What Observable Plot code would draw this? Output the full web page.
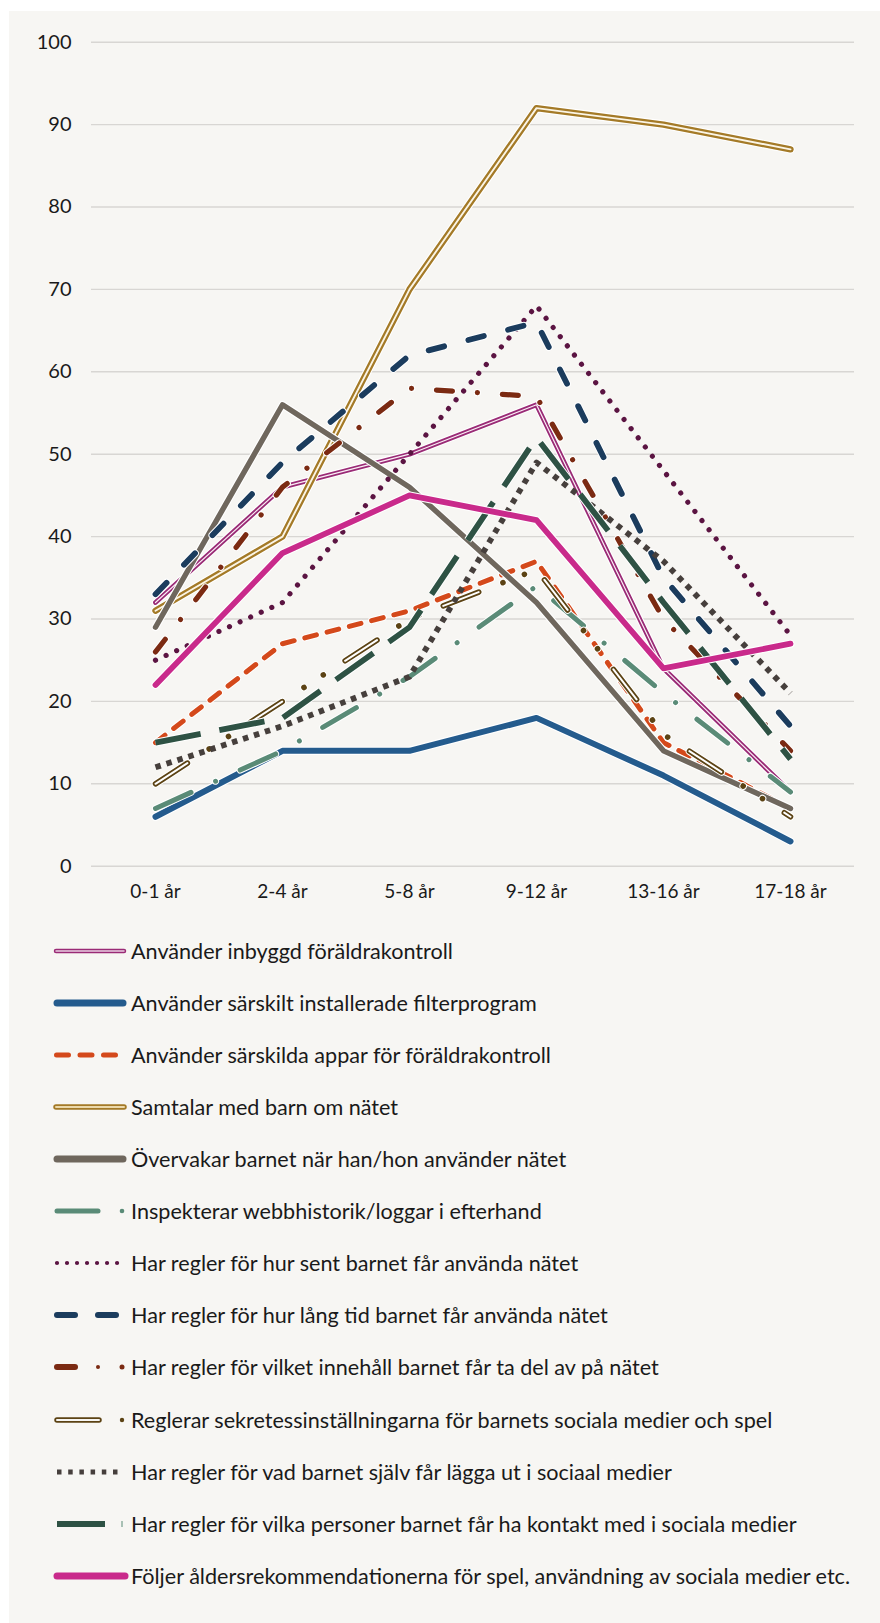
<!DOCTYPE html>
<html>
<head>
<meta charset="utf-8">
<script src="https://cdn.jsdelivr.net/npm/d3@7"></script>
<script src="https://cdn.jsdelivr.net/npm/@observablehq/plot@0.6"></script>
<style>
  html, body { margin: 0; padding: 0; background: #ffffff; }
  #page { position: relative; width: 880px; height: 1623px; overflow: hidden; }
  #panel { position: absolute; left: 9px; top: 11px; right: 0; bottom: 0; background: #f7f6f3; }
  #chart { position: absolute; left: 0; top: 0; }
  #legend { position: absolute; left: 0; top: 924.7px; width: 880px; font-family: Lato, sans-serif; font-size: 21.6px; color: #1a1a1a; }
  .row { position: relative; height: 52.1px; }
  .row svg { position: absolute; left: 50px; top: 19px; }
  .row span { position: absolute; left: 131px; top: 0; line-height: 52.1px; white-space: nowrap; }
</style>
</head>
<body>
<div id="page">
  <div id="panel"></div>
  <div id="chart"></div>
  <div id="legend"></div>
</div>
<script>
const categories = ["0-1 år", "2-4 år", "5-8 år", "9-12 år", "13-16 år", "17-18 år"];
const yTicks = [0, 10, 20, 30, 40, 50, 60, 70, 80, 90, 100];

const seriesNames = [
  "Använder inbyggd föräldrakontroll",
  "Använder särskilt installerade filterprogram",
  "Använder särskilda appar för föräldrakontroll",
  "Samtalar med barn om nätet",
  "Övervakar barnet när han/hon använder nätet",
  "Inspekterar webbhistorik/loggar i efterhand",
  "Har regler för hur sent barnet får använda nätet",
  "Har regler för hur lång tid barnet får använda nätet",
  "Har regler för vilket innehåll barnet får ta del av på nätet",
  "Reglerar sekretessinställningarna för barnets sociala medier och spel",
  "Har regler för vad barnet själv får lägga ut i sociaal medier",
  "Har regler för vilka personer barnet får ha kontakt med i sociala medier",
  "Följer åldersrekommendationerna för spel, användning av sociala medier etc."
];

const inbyggd      = [32, 46, 50, 56, 24, 9];
const filterprog   = [6, 14, 14, 18, 11, 3];
const appar        = [15, 27, 31, 37, 15, 7];
const samtalar     = [31, 40, 70, 92, 90, 87];
const overvakar    = [29, 56, 46, 32, 14, 7];
const inspekterar  = [7, 14, 23, 34, 21, 9];
const hurSent      = [25, 32, 50, 68, 48, 28];
const hurLang      = [33, 49, 62, 66, 35, 17];
const innehall     = [26, 46, 58, 57, 30, 14];
const sekretess    = [10, 20, 30, 36, 16, 6];
const laggaUt      = [12, 17, 23, 49, 37, 21];
const personer     = [15, 18, 29, 52, 32, 13];
const aldersrek    = [22, 38, 45, 42, 24, 27];

const seriesValues = [inbyggd, filterprog, appar, samtalar, overvakar, inspekterar,
  hurSent, hurLang, innehall, sekretess, laggaUt, personer, aldersrek];

const colors = ["#9a2b76", "#245b8d", "#d4491b", "#a47a27", "#6f675d", "#5a8b77",
  "#5b1442", "#1b3c5d", "#7b2a12", "#5c4314", "#463f3c", "#2e5244", "#c92a8b"];

function rows(i) {
  return categories.map((c, j) => ({series: seriesNames[i], x: c, y: seriesValues[i][j]}));
}

const W = "#ffffff";
const styles = [
  [ {stroke: W, w: 7, cap: "round"}, {stroke: colors[0], w: 4.8, cap: "round"}, {stroke: "#fbeef6", w: 1.2, cap: "round"} ],
  [ {stroke: W, w: 8.2, cap: "round"}, {stroke: colors[1], w: 6, cap: "round"} ],
  [ {stroke: W, w: 7, cap: "round", dash: "12,11"}, {stroke: colors[2], w: 5, cap: "round", dash: "12,11"} ],
  [ {stroke: W, w: 8.6, cap: "round"}, {stroke: colors[3], w: 6.4, cap: "round"}, {stroke: "#fbf5e6", w: 1.9, cap: "round"} ],
  [ {stroke: W, w: 7.6, cap: "round"}, {stroke: colors[4], w: 5.4, cap: "round"} ],
  [ {stroke: W, w: 7, cap: "round", dash: "39,27,0.01,27"}, {stroke: colors[5], w: 5, cap: "round", dash: "39,27,0.01,27"} ],
  [ {stroke: colors[6], w: 5.2, cap: "round", dash: "0.01,11.6"} ],
  [ {stroke: W, w: 7.8, cap: "round", dash: "16,25"}, {stroke: colors[7], w: 5.8, cap: "round", dash: "16,25"} ],
  [ {stroke: W, w: 7.2, cap: "round", dash: "16,25,0.01,25"}, {stroke: colors[8], w: 5.2, cap: "round", dash: "16,25,0.01,25"} ],
  [ {stroke: W, w: 7.6, cap: "round", dash: "38,26,0.01,23,0.01,26"}, {stroke: colors[9], w: 5.6, cap: "round", dash: "38,26,0.01,23,0.01,26"}, {stroke: W, w: 2, cap: "round", dash: "38,75"} ],
  [ {stroke: colors[10], w: 5.8, cap: "butt", dash: "5.5,6"} ],
  [ {stroke: W, w: 7.8, cap: "butt", dash: "46,19"}, {stroke: colors[11], w: 5.8, cap: "butt", dash: "46,19"} ],
  [ {stroke: W, w: 8, cap: "round"}, {stroke: colors[12], w: 5.8, cap: "round"} ]
];

const lineMarks = [];
styles.forEach((layers, i) => {
  const data = rows(i);
  layers.forEach(l => {
    lineMarks.push(Plot.lineY(data, {
      x: "x", y: "y",
      stroke: l.stroke, strokeWidth: l.w,
      strokeLinecap: l.cap, strokeLinejoin: "round",
      strokeDasharray: l.dash
    }));
  });
});

const chart = Plot.plot({
  width: 880,
  height: 920,
  marginLeft: 91,
  marginRight: 26,
  marginTop: 41.7,
  marginBottom: 54.3,
  style: {background: "transparent", fontFamily: "Lato, sans-serif", color: "#1a1a1a", overflow: "visible"},
  x: {type: "point", domain: categories, padding: 0.5, label: null},
  y: {domain: [0, 100], label: null},
  marks: [
    Plot.gridY(yTicks, {stroke: "#d8d6d3", strokeOpacity: 1, strokeWidth: 1.4}),
    Plot.axisY(yTicks, {tickSize: 0, tickPadding: 20, fontSize: 20, label: null, fill: "#1a1a1a"}),
    Plot.axisX(categories, {tickSize: 0, tickPadding: 18, fontSize: 19, label: null, fill: "#1a1a1a"}),
    ...lineMarks
  ]
});
document.getElementById("chart").appendChild(chart);

const swatches = [
  `<line x1="6" y1="7" x2="74" y2="7" stroke="${colors[0]}" stroke-width="4.5" stroke-linecap="round"/><line x1="6" y1="7" x2="74" y2="7" stroke="#ead0e2" stroke-width="1.5" stroke-linecap="round"/>`,
  `<line x1="7" y1="7" x2="73" y2="7" stroke="${colors[1]}" stroke-width="7" stroke-linecap="round"/>`,
  `<line x1="6.5" y1="7" x2="70" y2="7" stroke="${colors[2]}" stroke-width="5" stroke-linecap="round" stroke-dasharray="12,11.5"/>`,
  `<line x1="6" y1="7" x2="74" y2="7" stroke="${colors[3]}" stroke-width="5.5" stroke-linecap="round"/><line x1="6" y1="7" x2="74" y2="7" stroke="#ecd9aa" stroke-width="2" stroke-linecap="round"/>`,
  `<line x1="7" y1="7" x2="73" y2="7" stroke="${colors[4]}" stroke-width="7" stroke-linecap="round"/>`,
  `<line x1="7" y1="7" x2="48" y2="7" stroke="${colors[5]}" stroke-width="5" stroke-linecap="round"/><circle cx="72" cy="7" r="2.3" fill="${colors[5]}"/>`,
  `<line x1="7" y1="7" x2="70" y2="7" stroke="${colors[6]}" stroke-width="4.2" stroke-linecap="round" stroke-dasharray="0.01,10"/>`,
  `<line x1="7" y1="7" x2="25" y2="7" stroke="${colors[7]}" stroke-width="6" stroke-linecap="round"/><line x1="48" y1="7" x2="66" y2="7" stroke="${colors[7]}" stroke-width="6" stroke-linecap="round"/>`,
  `<line x1="7" y1="7" x2="25" y2="7" stroke="${colors[8]}" stroke-width="6" stroke-linecap="round"/><circle cx="48" cy="7" r="2" fill="${colors[8]}"/><circle cx="72" cy="7" r="2.5" fill="${colors[8]}"/>`,
  `<line x1="7" y1="7" x2="49" y2="7" stroke="${colors[9]}" stroke-width="5.5" stroke-linecap="round"/><line x1="7" y1="7" x2="49" y2="7" stroke="#f7f6f3" stroke-width="2" stroke-linecap="round"/><circle cx="72" cy="7" r="2.2" fill="${colors[9]}"/>`,
  `<line x1="7" y1="7" x2="72" y2="7" stroke="${colors[10]}" stroke-width="5" stroke-dasharray="4.5,6.7"/>`,
  `<line x1="7" y1="7" x2="55" y2="7" stroke="${colors[11]}" stroke-width="6"/><line x1="72" y1="4" x2="72" y2="10" stroke="${colors[5]}" stroke-width="1"/>`,
  `<line x1="7" y1="7" x2="75" y2="7" stroke="${colors[12]}" stroke-width="7" stroke-linecap="round"/>`
];
const legend = document.getElementById("legend");
seriesNames.forEach((name, i) => {
  const row = document.createElement("div");
  row.className = "row";
  row.innerHTML = `<svg width="82" height="14" viewBox="0 0 82 14">${swatches[i]}</svg><span>${name}</span>`;
  legend.appendChild(row);
});
</script>
</body>
</html>
